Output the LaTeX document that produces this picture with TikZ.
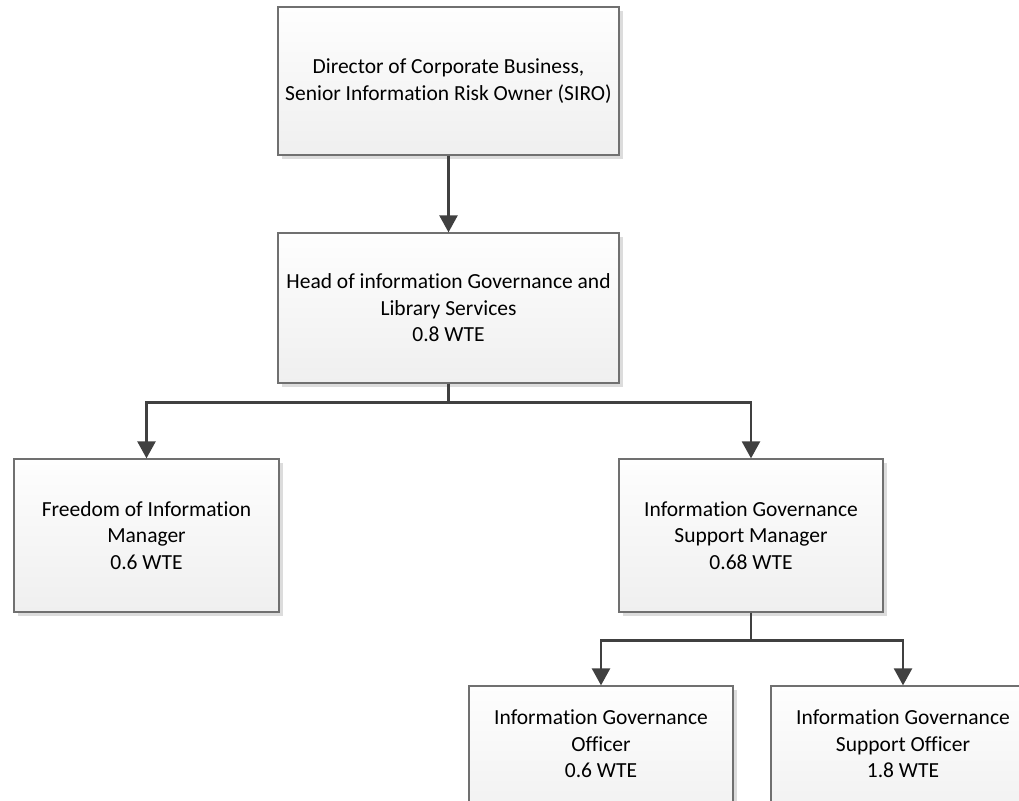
\documentclass[tikz,border=0pt]{standalone}
\usepackage{fontspec}
\setmainfont{Carlito}[Ligatures=NoCommon]
\usetikzlibrary{arrows.meta,shadows}
\definecolor{boxtop}{RGB}{254,254,254}
\definecolor{boxbot}{RGB}{239,239,239}
\definecolor{boxline}{RGB}{112,112,112}
\definecolor{linec}{RGB}{64,64,64}
\definecolor{shadec}{RGB}{220,220,220}
\tikzset{
  orgbox/.style={rectangle, draw=boxline, line width=1.3pt, top color=boxtop, bottom color=boxbot,
    drop shadow={shadow xshift=4pt, shadow yshift=-4pt, fill=shadec, opacity=1},
    align=center, font=\fontsize{21.5}{26.5}\selectfont, text=black, inner sep=0pt},
  orgtxt/.style={align=center, font=\fontsize{21.5}{26.5}\selectfont, text=black, inner sep=0pt},
  conn/.style={draw=linec, line width=2.5pt, -{Triangle[width=18pt,length=17pt]}},
}
\begin{document}
\begin{tikzpicture}[x=1pt,y=-1pt]
\useasboundingbox (0,0) rectangle (1019,800);
\clip (0,0) rectangle (1019,800);
\node[orgbox, minimum width=341pt, minimum height=148pt] (dir) at (448.5,81)
  {Director of Corporate Business,\\Senior Information Risk Owner (SIRO)};
\node[orgbox, minimum width=341pt, minimum height=150pt] (head) at (448.5,308)
  {Head of information Governance and\\Library Services\\0.8 WTE};
\node[orgbox, minimum width=265pt, minimum height=153pt] (foi) at (146.5,535.5)
  {Freedom of Information\\Manager\\0.6 WTE};
\node[orgbox, minimum width=264pt, minimum height=153pt] (igsm) at (751,535.5)
  {Information Governance\\Support Manager\\0.68 WTE};
\node[orgbox, minimum width=264pt, minimum height=150pt] (igo) at (601,761) {};
\node[orgbox, minimum width=264pt, minimum height=150pt] (igso) at (903,761) {};
\node[orgtxt] (igot) at (601,744) {Information Governance\\Officer\\0.6 WTE};
\node[orgtxt] (igsot) at (903,744) {Information Governance\\Support Officer\\1.8 WTE};
\draw[conn] (dir.south -| head.north) -- (head.north);
\draw[conn] (head.south) -- ++(0,19) -| (foi.north);
\draw[conn] (head.south) -- ++(0,19) -| (igsm.north);
\draw[conn] (igsm.south) -- ++(0,28) -| (igo.north);
\draw[conn] (igsm.south) -- ++(0,28) -| (igso.north);
\end{tikzpicture}
\end{document}
